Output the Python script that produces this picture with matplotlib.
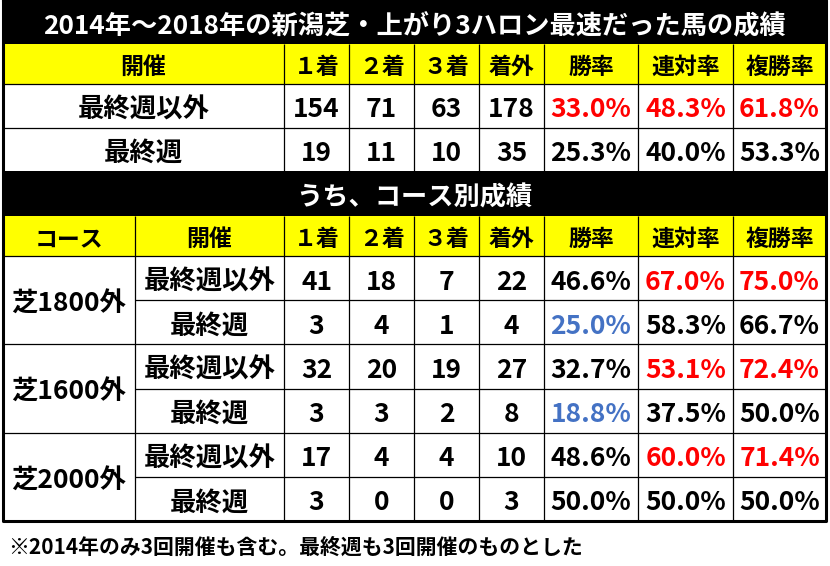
import matplotlib
matplotlib.use("Agg")
import matplotlib.pyplot as plt
from matplotlib.patches import Rectangle

plt.rcParams['font.family'] = ['Noto Sans CJK JP', 'DejaVu Sans']

# ---- data ----
title1 = "2014年～2018年の新潟芝・上がり3ハロン最速だった馬の成績"
title2 = "うち、コース別成績"
footnote = "※2014年のみ3回開催も含む。最終週も3回開催のものとした"
headers = ["１着", "２着", "３着", "着外", "勝率", "連対率", "複勝率"]

top_labels = ["最終週以外", "最終週"]
top_1st = [154, 19]
top_2nd = [71, 11]
top_3rd = [63, 10]
top_out = [178, 35]
top_win = ["33.0%", "25.3%"]
top_ren = ["48.3%", "40.0%"]
top_fuku = ["61.8%", "53.3%"]
top_colors = [["k", "k", "k", "k", "r", "r", "r"],
              ["k", "k", "k", "k", "k", "k", "k"]]

courses = ["芝1800外", "芝1600外", "芝2000外"]
sub_labels = ["最終週以外", "最終週"] * 3
c_1st = [41, 3, 32, 3, 17, 3]
c_2nd = [18, 4, 20, 3, 4, 0]
c_3rd = [7, 1, 19, 2, 4, 0]
c_out = [22, 4, 27, 8, 10, 3]
c_win = ["46.6%", "25.0%", "32.7%", "18.8%", "48.6%", "50.0%"]
c_ren = ["67.0%", "58.3%", "53.1%", "37.5%", "60.0%", "50.0%"]
c_fuku = ["75.0%", "66.7%", "72.4%", "50.0%", "71.4%", "50.0%"]
c_colors = [["k", "k", "k", "k", "k", "r", "r"],
            ["k", "k", "k", "k", "b", "k", "k"],
            ["k", "k", "k", "k", "k", "r", "r"],
            ["k", "k", "k", "k", "b", "k", "k"],
            ["k", "k", "k", "k", "k", "r", "r"],
            ["k", "k", "k", "k", "k", "k", "k"]]

# ---- style / layout ----
COLMAP = {"k": "#000000", "r": "#FF0000", "b": "#4472C4"}
YELLOW = "#FFFF00"
W, H = 830, 566
cols = [3, 284, 349, 414, 479, 544, 638, 733, 826]
split = 135
band1 = (0, 44)
head1 = (44, 84)
rows1 = [84, 127.5, 171]
band2 = (171, 216)
head2 = (216, 256)
rows2 = [256, 300.2, 344.4, 388.6, 432.8, 477, 521]

FS_TITLE = 18.9
FS_HEAD = 16.5
FS_CELL = 19
FS_NOTE = 15

fig = plt.figure(figsize=(W / 100, H / 100), dpi=100)
ax = fig.add_axes([0, 0, 1, 1])
ax.set_xlim(0, W)
ax.set_ylim(H, 0)
ax.axis("off")

L, R = cols[0], cols[-1]


def rect(x0, y0, x1, y1, fc):
    ax.add_patch(Rectangle((x0, y0), x1 - x0, y1 - y0, facecolor=fc, edgecolor="none", zorder=1))


def hline(y, x0=L, x1=R, lw=0.9):
    ax.plot([x0, x1], [y, y], color="k", lw=lw, zorder=3, solid_capstyle="butt")


def vline(x, y0, y1, lw=0.9):
    ax.plot([x, x], [y0, y1], color="k", lw=lw, zorder=3, solid_capstyle="butt")


def txt(x, y, s, fs, color="k", ha="center"):
    ax.text(x, y, s, fontsize=fs, color=color, ha=ha, va="center_baseline",
            fontweight="bold", zorder=4)


def cx(i):
    return (cols[i] + cols[i + 1]) / 2


# section 1
rect(L, band1[0], R, band1[1], "black")
txt((L + R) / 2, sum(band1) / 2 + 1, title1, FS_TITLE, "white")
rect(L, head1[0], R, head1[1], YELLOW)
txt(cx(0), sum(head1) / 2 + 1, "開催", FS_HEAD)
for j, h in enumerate(headers):
    txt(cx(j + 1), sum(head1) / 2 + 1, h, FS_HEAD)
for i in range(2):
    yc = (rows1[i] + rows1[i + 1]) / 2 + 1
    vals = [top_1st[i], top_2nd[i], top_3rd[i], top_out[i], top_win[i], top_ren[i], top_fuku[i]]
    txt(cx(0), yc, top_labels[i], FS_CELL)
    for j, v in enumerate(vals):
        txt(cx(j + 1), yc, str(v), FS_CELL, COLMAP[top_colors[i][j]])
for y in [head1[1], rows1[1]]:
    hline(y)
for x in cols[1:-1]:
    vline(x, head1[0], rows1[-1])

# section 2
rect(L, band2[0], R, band2[1], "black")
txt((L + R) / 2, sum(band2) / 2 + 1, title2, FS_TITLE, "white")
rect(L, head2[0], R, head2[1], YELLOW)
txt((L + split) / 2, sum(head2) / 2 + 1, "コース", FS_HEAD)
txt((split + cols[1]) / 2, sum(head2) / 2 + 1, "開催", FS_HEAD)
for j, h in enumerate(headers):
    txt(cx(j + 1), sum(head2) / 2 + 1, h, FS_HEAD)
for i in range(6):
    yc = (rows2[i] + rows2[i + 1]) / 2 + 1
    vals = [c_1st[i], c_2nd[i], c_3rd[i], c_out[i], c_win[i], c_ren[i], c_fuku[i]]
    txt((split + cols[1]) / 2, yc, sub_labels[i], FS_CELL)
    for j, v in enumerate(vals):
        txt(cx(j + 1), yc, str(v), FS_CELL, COLMAP[c_colors[i][j]])
for k, c in enumerate(courses):
    txt((L + split) / 2, rows2[2 * k + 1] + 1, c, FS_CELL)
hline(head2[1])
for i in range(1, 6):
    x0 = L if i % 2 == 0 else split
    hline(rows2[i], x0=x0)
vline(split, head2[0], rows2[-1])
for x in cols[1:-1]:
    vline(x, head2[0], rows2[-1])

# outer border
ax.plot([L, R, R, L, L], [0, 0, rows2[-1], rows2[-1], 0], color="k", lw=2.2, zorder=5)

ax.text(8, 545, footnote, fontsize=FS_NOTE, color="k", ha="left", va="center_baseline",
        fontweight="bold")

fig.savefig("out.png", dpi=100, facecolor="white")
